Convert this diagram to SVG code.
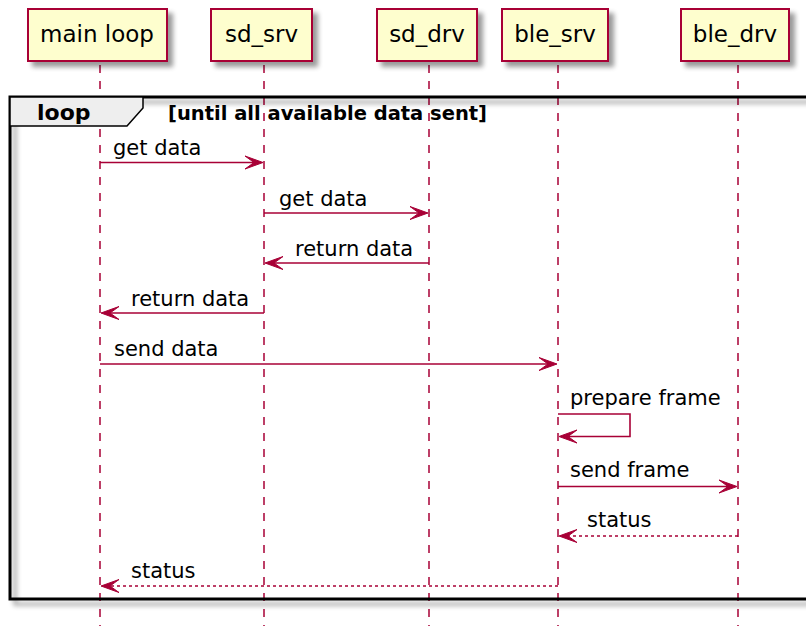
<svg xmlns="http://www.w3.org/2000/svg" width="806" height="626" viewBox="0 0 806 626">
<style>
.box{fill:#FEFECE;stroke:#A80036;stroke-width:2}
.ll{stroke:#A80036;stroke-width:1.5;stroke-dasharray:8,8;fill:none}
.pt{font-family:"DejaVu Sans",sans-serif;font-size:23px;fill:#000;text-anchor:middle}
.mt{font-family:"DejaVu Sans",sans-serif;font-size:21px;fill:#000}
.bt{font-family:"DejaVu Sans",sans-serif;font-weight:bold;fill:#000}
.msg{stroke:#A80036;stroke-width:1.6;fill:none}
.dash{stroke-dasharray:3,3}
.ah{fill:#A80036;stroke:#A80036;stroke-width:1}
</style>
<defs>
<filter id="sh" x="-10%" y="-10%" width="130%" height="140%">
<feGaussianBlur in="SourceAlpha" stdDeviation="2.5"/>
<feOffset dx="5" dy="5" result="b"/>
<feComponentTransfer><feFuncA type="linear" slope="0.4"/></feComponentTransfer>
<feMerge><feMergeNode/><feMergeNode in="SourceGraphic"/></feMerge>
</filter>
</defs>
<rect width="806" height="626" fill="#fff"/>
<g id="lifelines">
<line class="ll" x1="100" y1="65" x2="100" y2="626"/>
<line class="ll" x1="264" y1="65" x2="264" y2="626"/>
<line class="ll" x1="429" y1="65" x2="429" y2="626"/>
<line class="ll" x1="558" y1="65" x2="558" y2="626"/>
<line class="ll" x1="738" y1="65" x2="738" y2="626"/>
</g>
<g id="loop">
<rect x="10" y="97" width="810" height="502" fill="none" stroke="#000" stroke-width="3" filter="url(#sh)"/>
<polygon points="10,97 143,97 143,108 127,126 10,126" fill="#EEEEEE" stroke="#000" stroke-width="1.5"/>
<text class="bt" x="37" y="120" font-size="22">loop</text>
<text class="bt" x="168" y="120" font-size="19.5">[until all available data sent]</text>
</g>
<g id="main_loop"><rect class="box" x="28" y="9" width="139" height="52" filter="url(#sh)"/><text class="pt" x="97" y="42">main loop</text></g>
<g id="sd_srv"><rect class="box" x="211" y="9" width="101" height="52" filter="url(#sh)"/><text class="pt" x="261.5" y="42">sd_srv</text></g>
<g id="sd_drv"><rect class="box" x="377" y="9" width="100" height="52" filter="url(#sh)"/><text class="pt" x="427" y="42">sd_drv</text></g>
<g id="ble_srv"><rect class="box" x="502" y="9" width="106" height="52" filter="url(#sh)"/><text class="pt" x="555" y="42">ble_srv</text></g>
<g id="ble_drv"><rect class="box" x="681" y="9" width="108" height="52" filter="url(#sh)"/><text class="pt" x="735" y="42">ble_drv</text></g>
<g id="connectors">
<line class="msg" x1="100" y1="162.5" x2="256" y2="162.5"/>
<polygon class="ah" points="263,162.5 245,156 254,162.5 245,169"/>
<text class="mt" x="113" y="155">get data</text>

<line class="msg" x1="264" y1="213" x2="421" y2="213"/>
<polygon class="ah" points="428,213 410,206.5 419,213 410,219.5"/>
<text class="mt" x="279" y="205.5">get data</text>

<line class="msg" x1="429" y1="263" x2="272" y2="263"/>
<polygon class="ah" points="265,263 283,256.5 274,263 283,269.5"/>
<text class="mt" x="295" y="255.5">return data</text>

<line class="msg" x1="264" y1="313" x2="108" y2="313"/>
<polygon class="ah" points="101,313 119,306.5 110,313 119,319.5"/>
<text class="mt" x="131" y="305.5">return data</text>

<line class="msg" x1="100" y1="364" x2="550" y2="364"/>
<polygon class="ah" points="557,364 539,357.5 548,364 539,370.5"/>
<text class="mt" x="114" y="356">send data</text>

<polyline class="msg" points="558,414 630,414 630,436.5 566,436.5"/>
<polygon class="ah" points="559,436.5 577,430 568,436.5 577,443"/>
<text class="mt" x="570" y="405">prepare frame</text>

<line class="msg" x1="558" y1="486.5" x2="730" y2="486.5"/>
<polygon class="ah" points="737,486.5 719,480 728,486.5 719,493"/>
<text class="mt" x="570" y="477">send frame</text>

<line class="msg dash" x1="738" y1="536" x2="566" y2="536"/>
<polygon class="ah" points="559,536 577,529.5 568,536 577,542.5"/>
<text class="mt" x="587" y="527">status</text>

<line class="msg dash" x1="558" y1="586" x2="108" y2="586"/>
<polygon class="ah" points="101,586 119,579.5 110,586 119,592.5"/>
<text class="mt" x="131" y="578">status</text>
</g>
</svg>
